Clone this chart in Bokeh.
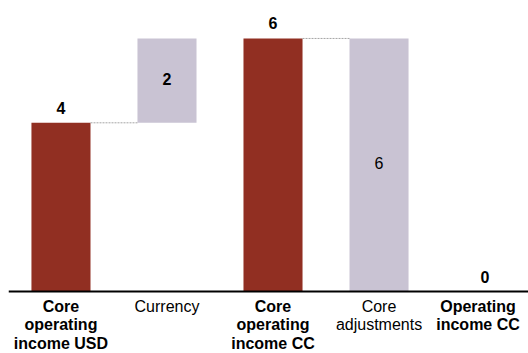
from bokeh.plotting import figure
from bokeh.models import Range1d, Span
from bokeh.embed import file_html
from bokeh.resources import INLINE
from bokeh.core.properties import value

# ---- data ----
categories = ["Core\noperating\nincome USD", "Currency", "Core\noperating\nincome CC",
              "Core\nadjustments", "Operating\nincome CC"]
values = [4, 2, 6, -6, 0]
is_total = [True, False, True, False, True]
value_bold = [True, True, True, False, True]
category_bold = [True, False, True, False, True]

TOTAL_COLOR = "#912F22"
DELTA_COLOR = "#C9C3D3"
BAR_W = 0.557
FONT = "Liberation Sans"

# ---- waterfall geometry from data ----
xs = list(range(len(categories)))
bottoms, tops, levels = [], [], []
running = 0
for v, t in zip(values, is_total):
    if t:
        b, tp = 0, v
        running = v
    else:
        start, end = running, running + v
        b, tp = min(start, end), max(start, end)
        running = end
    bottoms.append(b)
    tops.append(tp)
    levels.append(running)

colors = [TOTAL_COLOR if t else DELTA_COLOR for t in is_total]

p = figure(width=528, height=353, x_range=Range1d(-0.495, 4.41), y_range=Range1d(-1.47, 6.90),
           output_backend="svg", toolbar_location=None,
           min_border_left=8, min_border_right=0, min_border_top=0, min_border_bottom=0)
p.xaxis.visible = False
p.yaxis.visible = False
p.xgrid.visible = False
p.ygrid.visible = False
p.outline_line_color = None
p.background_fill_color = "white"
p.border_fill_color = "white"

p.vbar(x=xs, bottom=bottoms, top=tops, width=BAR_W, fill_color=colors, line_color=None)

# connectors from each total to the next bar
cx0, cx1, cy = [], [], []
for i, t in enumerate(is_total):
    if t and i + 1 < len(xs) and levels[i] != 0:
        cx0.append(xs[i] + BAR_W / 2)
        cx1.append(xs[i + 1] - BAR_W / 2)
        cy.append(levels[i])
p.segment(x0=cx0, y0=cy, x1=cx1, y1=cy, line_color="#A6A6A6", line_dash="2 1", line_width=1)

# baseline axis line
p.add_layout(Span(location=0, dimension="width", line_color="black", line_width=2))

# value labels
for bold in (True, False):
    # totals: above bar
    tx = [x for x, t, vb in zip(xs, is_total, value_bold) if t and vb == bold]
    ty = [tp for tp, t, vb in zip(tops, is_total, value_bold) if t and vb == bold]
    tt = [str(abs(v)) for v, t, vb in zip(values, is_total, value_bold) if t and vb == bold]
    if tx:
        p.text(x=tx, y=ty, text=tt, text_align="center", text_baseline="alphabetic", y_offset=-15,
               text_font=value(FONT), text_font_size="16px",
               text_font_style="bold" if bold else "normal", text_color="black")
    # deltas: inside bar
    dx = [x for x, t, vb in zip(xs, is_total, value_bold) if (not t) and vb == bold]
    dy = [(b + tp) / 2 for b, tp, t, vb in zip(bottoms, tops, is_total, value_bold) if (not t) and vb == bold]
    dt = [str(abs(v)) for v, t, vb in zip(values, is_total, value_bold) if (not t) and vb == bold]
    if dx:
        p.text(x=dx, y=dy, text=dt, text_align="center", text_baseline="middle", y_offset=-2,
               text_font=value(FONT), text_font_size="16px",
               text_font_style="bold" if bold else "normal", text_color="black")

# category labels (last one nudged left to stay inside the canvas)
for bold in (True, False):
    idx = [i for i, cb in enumerate(category_bold) if cb == bold]
    lx = [xs[i] for i in idx]
    lt = [categories[i] for i in idx]
    xo = [-7 if i == len(xs) - 1 else 0 for i in idx]
    p.text(x=lx, y=[0] * len(lx), text=lt, text_align="center", text_baseline="top",
           x_offset=xo, y_offset=6,
           text_font=value(FONT), text_font_size="16px", text_line_height=1.1,
           text_font_style="bold" if bold else "normal", text_color="black")

open("out.html", "w").write(file_html(p, INLINE))
